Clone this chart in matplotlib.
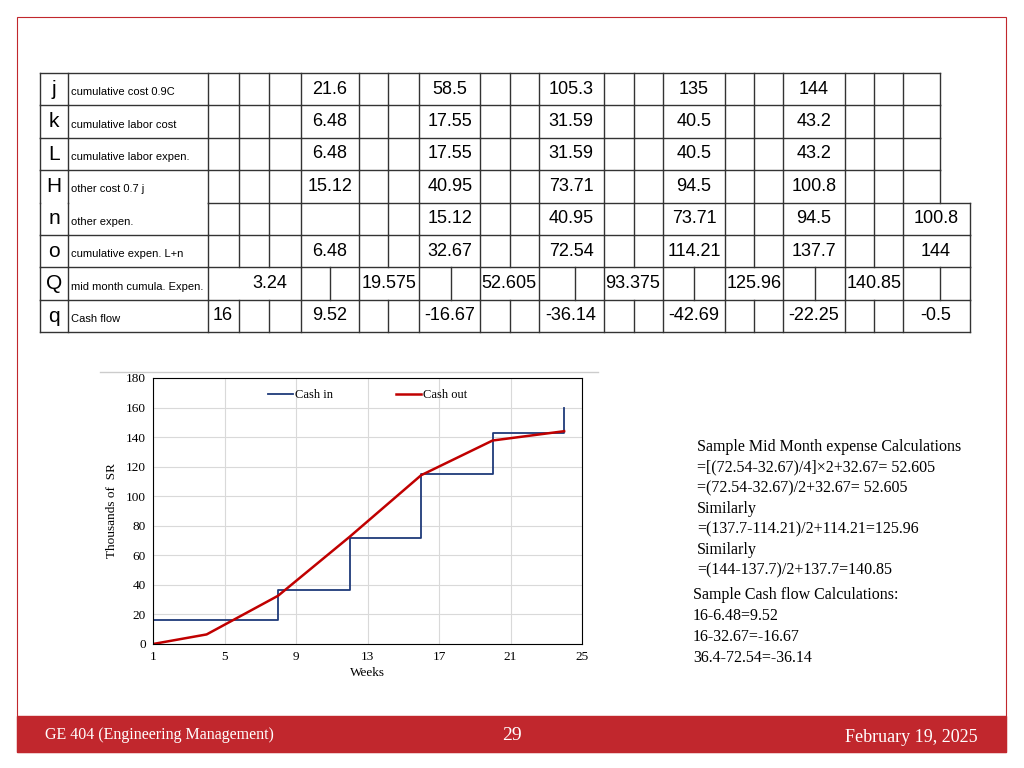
import matplotlib.pyplot as plt
from matplotlib.patches import Rectangle

# ---- table data ----
row_keys = ["j", "k", "L", "H", "n", "o", "Q", "q"]
row_desc = ["cumulative cost 0.9C", "cumulative labor cost", "cumulative labor expen.",
            "other cost 0.7 j", "other expen.", "cumulative expen. L+n",
            "mid month cumula. Expen.", "Cash flow"]
cum_cost = ["21.6", "58.5", "105.3", "135", "144"]
labor_cost = ["6.48", "17.55", "31.59", "40.5", "43.2"]
labor_expen = ["6.48", "17.55", "31.59", "40.5", "43.2"]
other_cost = ["15.12", "40.95", "73.71", "94.5", "100.8"]
other_expen = ["15.12", "40.95", "73.71", "94.5", "100.8"]
cum_expen = ["6.48", "32.67", "72.54", "114.21", "137.7", "144"]
mid_month = ["3.24", "19.575", "52.605", "93.375", "125.96", "140.85"]
cash_flow = ["16", "9.52", "-16.67", "-36.14", "-42.69", "-22.25", "-0.5"]

# ---- chart data ----
weeks_out = [1, 4, 8, 12, 16, 20, 24]
cash_out = [0, 6.48, 32.67, 72.54, 114.21, 137.7, 144]
weeks_in = [1, 8, 8, 12, 12, 16, 16, 20, 20, 24, 24]
cash_in = [16, 16, 36.4, 36.4, 71.5, 71.5, 115, 115, 143, 143, 160]

sans = ["Liberation Sans", "DejaVu Sans"]
serif = ["Liberation Serif", "DejaVu Serif"]

fig = plt.figure(figsize=(10.24, 7.68), dpi=100)
bg = fig.add_axes([0, 0, 1, 1])
bg.set_xlim(0, 1024)
bg.set_ylim(768, 0)
bg.axis("off")

red = "#c1272d"
bg.add_patch(Rectangle((17, 17), 989, 735, fill=False, ec=red, lw=0.8))
bg.add_patch(Rectangle((17, 716), 989, 36, color=red))
bg.text(45, 735, "GE 404 (Engineering Management)", color="white", fontsize=11.5,
        family=serif, va="center")
bg.text(512, 736, "29", color="white", fontsize=14, family=serif, va="center", ha="center")
bg.text(978, 737, "February 19, 2025", color="white", fontsize=13, family=serif,
        va="center", ha="right")

# ---- table ----
top, rh = 73, 32.4
main_cols = [208, 239, 269, 301, 359, 388, 419, 480, 510, 539, 604, 634, 663, 725, 754, 783, 845, 874, 903]
q_cols = [208, 301, 330, 359, 419, 451, 480, 539, 575, 604, 663, 694, 725, 783, 815, 845, 903, 940, 970]
centers = [330, 450, 571, 694, 814]
row_lines = [main_cols + [940]] * 4 + [main_cols + [970]] * 2 + [q_cols] + \
            [[c for c in main_cols if c != 903] + [903, 970]]
row_vals = [
    list(zip(centers, cum_cost)),
    list(zip(centers, labor_cost)),
    list(zip(centers, labor_expen)),
    list(zip(centers, other_cost)),
    list(zip(centers[1:] + [936], other_expen)),
    list(zip(centers + [936], cum_expen)),
    list(zip([270, 389, 509, 633, 754, 874], mid_month)),
    list(zip([223] + centers + [936], cash_flow)),
]
lc, lw = "#333333", 1.0
for i in range(8):
    y0, y1 = top + i * rh, top + (i + 1) * rh
    right = row_lines[i][-1]
    for x in [40, 68] + row_lines[i]:
        bg.plot([x, x], [y0, y1], color=lc, lw=lw)
    bg.plot([40 if i != 4 else 208, right], [y0, y0], color=lc, lw=lw)
    if i > 0:
        prev_right = row_lines[i - 1][-1]
        if prev_right > right:
            bg.plot([right, prev_right], [y0, y0], color=lc, lw=lw)
    bg.text(54, (y0 + y1) / 2, row_keys[i], fontsize=15, family=sans, ha="center", va="center")
    bg.text(71, (y0 + y1) / 2 + 3, row_desc[i], fontsize=8, family=sans, va="center")
    for cx, v in row_vals[i]:
        bg.text(cx, (y0 + y1) / 2, v, fontsize=13, family=sans, ha="center", va="center")
bg.plot([40, 970], [top + 8 * rh] * 2, color=lc, lw=lw)

# ---- right-side text ----
lines1 = ["Sample Mid Month expense Calculations", "=[(72.54-32.67)/4]\u00d72+32.67= 52.605",
          "=(72.54-32.67)/2+32.67= 52.605", "Similarly", "=(137.7-114.21)/2+114.21=125.96",
          "Similarly", "=(144-137.7)/2+137.7=140.85"]
for k, s in enumerate(lines1):
    bg.text(697, 447 + k * 20.6, s, fontsize=11.5, family=serif, va="center")
lines2 = ["Sample Cash flow Calculations:", "16-6.48=9.52", "16-32.67=-16.67", "36.4-72.54=-36.14"]
for k, s in enumerate(lines2):
    bg.text(693, 595 + k * 21, s, fontsize=11.5, family=serif, va="center")

# ---- chart ----
bg.plot([100, 598], [372, 372], color="#cccccc", lw=1)
ax = fig.add_axes([153 / 1024, 1 - 644 / 768, (582 - 153) / 1024, (644 - 378) / 768])
ax.plot(weeks_in, cash_in, color="#1f3a7a", lw=1.3, label="Cash in")
ax.plot(weeks_out, cash_out, color="#c00000", lw=1.8, label="Cash out")
ax.set_xlim(1, 25)
ax.set_ylim(0, 180)
ax.set_xticks(range(1, 26, 4))
ax.set_yticks(range(0, 181, 20))
ax.grid(True, color="#d9d9d9", lw=0.8)
ax.tick_params(length=0, labelsize=9.5, pad=5)
for lab in ax.get_xticklabels() + ax.get_yticklabels():
    lab.set_family(serif)
ax.set_xlabel("Weeks", family=serif, fontsize=9.5, labelpad=3)
ax.set_ylabel("Thousands of  SR", family=serif, fontsize=9.5, labelpad=6)
ax.legend(loc="upper center", ncol=2, frameon=False, prop={"family": serif, "size": 9},
          handlelength=2, handletextpad=0.2, columnspacing=5, bbox_to_anchor=(0.5, 1.0))

fig.savefig("out.png", dpi=100)
